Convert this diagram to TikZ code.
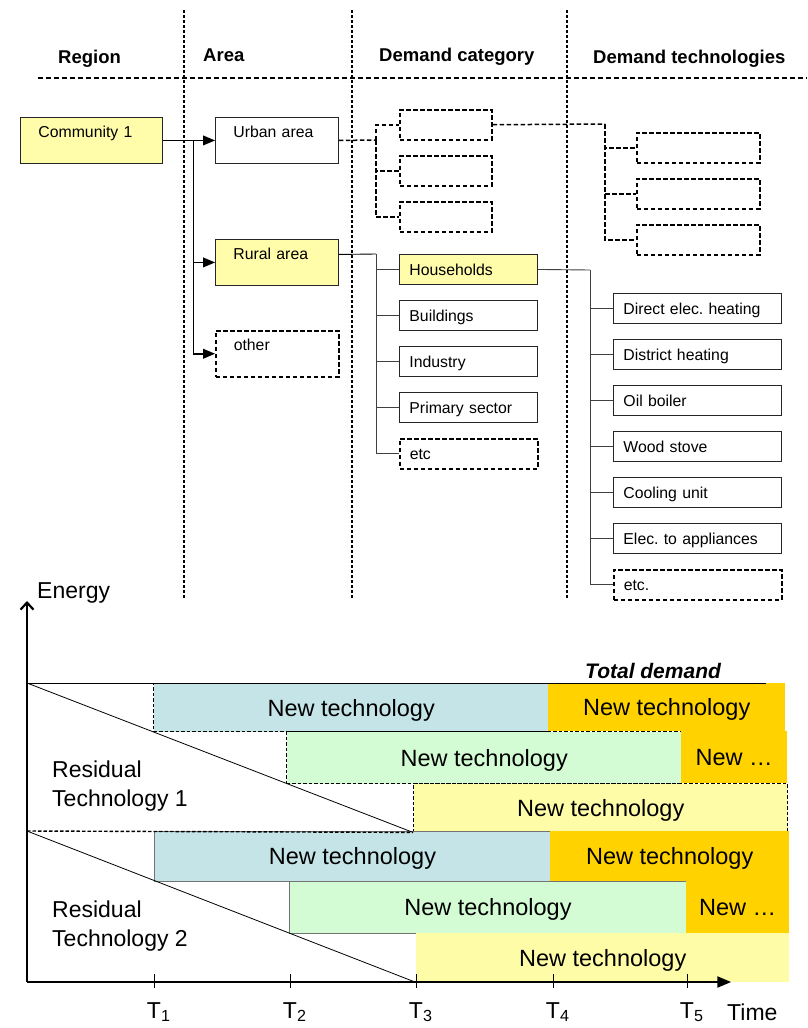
\documentclass[tikz,border=0pt]{standalone}
\usepackage{fontspec}
\setmainfont{Liberation Sans}
\usepackage{xcolor}
\usepackage{tikz}
\usetikzlibrary{arrows,arrows.meta}
\frenchspacing

\definecolor{cellyellow}{RGB}{255,252,170}
\definecolor{paleblue}{RGB}{196,228,232}
\definecolor{palegreen}{RGB}{212,252,212}
\definecolor{paleyellow}{RGB}{255,252,168}
\definecolor{gold}{RGB}{255,210,0}

\begin{document}
\begin{tikzpicture}[x=1pt,y=-1pt,>=triangle 45,
  every node/.style={font=\fontsize{15.8}{19}\selectfont},
  header/.style={anchor=base west,inner sep=0pt,font=\fontsize{18.5}{22}\selectfont\bfseries},
  colsep/.style={line width=1.4pt,dash pattern=on 3pt off 2pt},
  tallbox/.style={draw=black!85,line width=0.9pt,anchor=north west,align=left,
    inner xsep=18pt,inner ysep=0pt,text width=#1,text height=20pt,text depth=26pt},
  shortbox/.style={draw=black!85,line width=0.9pt,anchor=north west,align=left,
    inner xsep=10pt,inner ysep=0pt,text width=#1,text height=21pt,text depth=9pt},
  dotbox/.style={draw=black,line width=1.5pt,dash pattern=on 4.5pt off 2.5pt},
  mainarrow/.style={->,line width=1.8pt},
  branch/.style={line width=0.9pt,black!75},
  dotbranch/.style={line width=1.5pt,dash pattern=on 4.5pt off 2.5pt},
  bar/.style={anchor=north west,inner sep=0pt,text height=17pt,text depth=0pt,
    font=\fontsize{23.5}{27}\selectfont},
  dashedge/.style={draw=black,line width=1.4pt,dash pattern=on 3.5pt off 2pt},
  solidedge/.style={draw=black!55,line width=0.9pt},
  chartlabel/.style={inner sep=0pt,font=\fontsize{23}{29}\selectfont},
  axis/.style={line width=2.2pt}
]
\useasboundingbox (0,0) rectangle (807,1028);

% column headers and separators
\node[header] (hregion) at (58,63) {Region};
\node[header] (harea) at (203,61) {Area};
\node[header] (hcat) at (379,61) {Demand category};
\node[header] (htech) at (593,63) {Demand technologies};
\draw[colsep,dash pattern=on 5pt off 3pt] (38,78) -- (807,78);
\foreach \x in {184,352,567}
  \draw[colsep] (\x,10) -- (\x,598);

% region and areas
\node[tallbox=106pt,fill=cellyellow] (comm) at (20,117) {Community 1};
\node[tallbox=87pt] (urban) at (215,117) {Urban area};
\node[tallbox=87pt,fill=cellyellow] (rural) at (215,239) {Rural area};
\node[tallbox=87pt,dotbox] (other) at (215,330) {other};

% demand categories
\foreach \y [count=\i] in {109,155,201}
  \node[shortbox=72pt,dotbox] (ucat\i) at (399,\y) {};
\node[shortbox=118pt,fill=cellyellow] (cat1) at (399,254) {Households};
\foreach \txt [count=\i from 2] in {Buildings,Industry,Primary sector}
  \node[shortbox=118pt] (cat\i) at (399,208+46*\i) {\txt};
\node[shortbox=118pt,dotbox] (cat5) at (399,438) {etc};

% demand technologies
\foreach \y [count=\i] in {132,178,224}
  \node[shortbox=103pt,dotbox] (utech\i) at (636,\y) {};
\foreach \txt [count=\i] in {Direct elec. heating,District heating,Oil boiler,Wood stove,Cooling unit,Elec. to appliances}
  \node[shortbox=148pt] (tech\i) at (613,247+46*\i) {\txt};
\node[shortbox=148pt,dotbox] (tech7) at (613,569) {etc.};

% connectors
\draw[mainarrow] (comm) -- (urban);
\coordinate (split) at (193,140);
\draw[line width=0.9pt] (split) -- (split |- other.west);
\draw[mainarrow] (split |- rural.west) -- (rural.west);
\draw[mainarrow] (split |- other.west) -- (other.west);

\coordinate (ujoin) at (376,140);
\draw[dotbranch] (urban.east) -- (ujoin);
\foreach \i in {1,2,3}
  \draw[dotbranch] (ujoin) |- (ucat\i.west);
\coordinate (tjoin) at (605,124);
\draw[dotbranch] (ucat1.east) -- (tjoin);
\foreach \i in {1,2,3}
  \draw[dotbranch] (tjoin) |- (utech\i.west);

\coordinate (rjoin) at (376,254);
\draw[branch,black] ([yshift=8pt]rural.east) -- (rjoin);
\foreach \i in {1,...,5}
  \draw[branch] (rjoin) |- (cat\i.west);
\coordinate (hjoin) at (590,270);
\draw[branch] (cat1.east) -- (hjoin);
\foreach \i in {1,...,7}
  \draw[branch] (hjoin) |- (tech\i.west);

% chart: residual technology 1
\node[bar,fill=paleblue,dashedge,minimum width=395pt,minimum height=48pt] (new11) at (153,683) {New technology};
\node[bar,fill=palegreen,dashedge,minimum width=395pt,minimum height=52pt] (new12) at (286,731) {New technology};
\node[bar,fill=paleyellow,dashedge,minimum width=374pt,minimum height=48pt] (new13) at (413,783) {New technology};
\node[bar,fill=gold,minimum width=237pt,minimum height=48pt] (old11) at (548,683) {New technology};
\node[bar,fill=gold,minimum width=106pt,minimum height=52pt] (old12) at (681,731) {New …};

% chart: residual technology 2
\node[bar,fill=paleblue,solidedge,minimum width=396pt,minimum height=50pt] (new21) at (154,831) {New technology};
\node[bar,fill=palegreen,solidedge,minimum width=397pt,minimum height=52pt] (new22) at (289,881) {New technology};
\node[bar,fill=paleyellow,minimum width=373pt,minimum height=49pt] (new23) at (416,933) {New technology};
\node[bar,fill=gold,minimum width=239pt,minimum height=50pt] (old21) at (550,831) {New technology};
\node[bar,fill=gold,minimum width=103pt,minimum height=52pt] (old22) at (686,881) {New …};

% demand lines
\draw[line width=0.9pt] (27,683) -- (766,683);
\node[anchor=base west,inner sep=0pt,font=\fontsize{21}{25}\selectfont\bfseries\itshape] (total) at (585,678) {Total demand};
\draw[line width=0.8pt] (27,683) -- (new13.south west);
\draw[dashedge] (27,831) -- (new13.south west);
\draw[line width=0.8pt] (27,831) -- (new23.south west);
\node[chartlabel,anchor=west,align=left] (res1) at (52,786) {Residual\\Technology 1};
\node[chartlabel,anchor=west,align=left] (res2) at (52,926) {Residual\\Technology 2};

% axes
\draw[axis,-{Straight Barb[length=7pt,width=13pt]}] (27,982) -- (27,601);
\draw[axis,->] (27,982) -- (731,982);
\node[chartlabel,anchor=base west] (energy) at (37,598) {Energy};
\node[chartlabel,anchor=base west] (time) at (727,1020) {Time};
\foreach \x/\n in {154/1,290/2,416/3,553/4,687/5} {
  \draw[line width=0.8pt] (\x,974) -- (\x,988);
  \node[chartlabel,anchor=base] (tick\n) at (\x,1018) {T\rlap{\textsubscript{\n}}};
}
\end{tikzpicture}
\end{document}
